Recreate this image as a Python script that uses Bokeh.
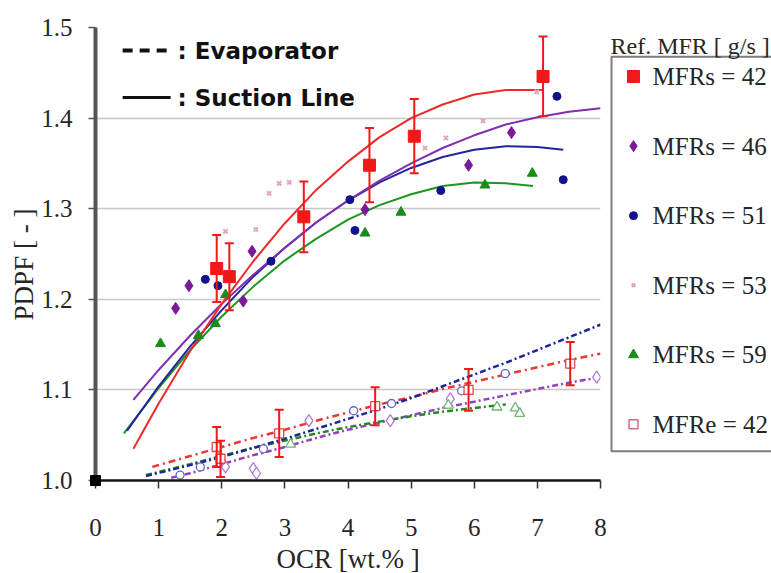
import math
from bokeh.plotting import figure
from bokeh.layouts import row
from bokeh.models import (Range1d, FixedTicker, PrintfTickFormatter, Label,
                          Whisker, TeeHead, ColumnDataSource)
from bokeh.core.properties import value
from bokeh.embed import file_html
from bokeh.resources import INLINE

SERIF = "'Liberation Serif', 'Times New Roman', serif"
KEYFONT = "'DejaVu Sans', sans-serif"
TXT = "#262626"

# ---------------- axis ticks and titles ----------------
x_ticks = [0, 1, 2, 3, 4, 5, 6, 7, 8]
y_ticks = [1.0, 1.1, 1.2, 1.3, 1.4, 1.5]
x_title = "OCR [wt.% ]"
y_title = "PDPF [ - ]"

# ---------------- suction line measurements (filled markers) ----------------
s42_x = [1.92, 2.12, 3.30, 4.34, 5.05, 7.09]
s42_y = [1.234, 1.225, 1.291, 1.348, 1.380, 1.446]
s42_err = [0.037, 0.037, 0.039, 0.041, 0.041, 0.044]

s46_x = [1.27, 1.48, 2.34, 2.48, 4.27, 5.91, 6.59]
s46_y = [1.190, 1.215, 1.198, 1.253, 1.299, 1.348, 1.384]

s51_x = [1.74, 1.94, 2.78, 4.03, 4.11, 5.47, 7.31, 7.41]
s51_y = [1.222, 1.215, 1.242, 1.310, 1.276, 1.320, 1.424, 1.332]

s53_x = [2.06, 2.54, 2.75, 2.91, 3.07, 5.22, 5.55, 6.14, 6.99]
s53_y = [1.275, 1.277, 1.317, 1.328, 1.329, 1.367, 1.378, 1.397, 1.429]

s59_x = [1.03, 1.63, 1.90, 2.06, 4.27, 4.84, 6.17, 6.92]
s59_y = [1.151, 1.160, 1.173, 1.205, 1.273, 1.296, 1.326, 1.339]

# ---------------- evaporator measurements (open markers) ----------------
e42_x = [1.92, 1.98, 2.91, 4.43, 5.91, 7.52]
e42_y = [1.037, 1.024, 1.052, 1.082, 1.100, 1.129]
e42_err = [0.022, 0.020, 0.026, 0.021, 0.023, 0.024]

e51_x = [1.34, 1.66, 2.66, 4.09, 4.69, 5.80, 6.49]
e51_y = [1.006, 1.015, 1.035, 1.077, 1.085, 1.099, 1.118]

e46_x = [2.06, 2.50, 2.55, 3.38, 4.67, 5.62, 7.94]
e46_y = [1.015, 1.013, 1.008, 1.066, 1.066, 1.090, 1.114]

e59_x = [1.98, 3.09, 5.59, 6.36, 6.65, 6.72]
e59_y = [1.026, 1.040, 1.083, 1.081, 1.080, 1.074]

origin_x = [0.0]
origin_y = [1.0]

# ---------------- trend curves, suction line ----------------
fs42_x = [0.6, 1.0, 1.5, 2.0, 2.5, 3.0, 3.5, 4.0, 4.5, 5.0, 5.5, 6.0, 6.5, 7.0, 7.09]
fs42_y = [1.035, 1.085, 1.143, 1.195, 1.242, 1.284, 1.321, 1.352, 1.379, 1.400,
          1.415, 1.426, 1.431, 1.431, 1.431]

fs46_x = [0.6, 1.0, 1.5, 2.0, 2.5, 3.0, 3.5, 4.0, 4.5, 5.0, 5.5, 6.0, 6.5, 7.0, 7.5, 8.0]
fs46_y = [1.089, 1.122, 1.160, 1.195, 1.227, 1.257, 1.285, 1.309, 1.331, 1.350,
          1.367, 1.381, 1.393, 1.401, 1.407, 1.411]

fs51_x = [0.5, 1.0, 1.5, 2.0, 2.5, 3.0, 3.5, 4.0, 4.5, 5.0, 5.5, 6.0, 6.5, 7.0, 7.41]
fs51_y = [1.055, 1.104, 1.148, 1.188, 1.225, 1.257, 1.285, 1.309, 1.329, 1.345,
          1.357, 1.365, 1.369, 1.368, 1.365]

fs59_x = [0.45, 1.0, 1.5, 2.0, 2.5, 3.0, 3.5, 4.0, 4.5, 5.0, 5.5, 6.0, 6.5, 6.93]
fs59_y = [1.052, 1.102, 1.144, 1.181, 1.214, 1.243, 1.267, 1.288, 1.304, 1.316,
          1.325, 1.329, 1.328, 1.325]

# ---------------- trend curves, evaporator ----------------
fe42_x = [0.9, 1.5, 2.0, 2.5, 3.0, 3.5, 4.0, 4.5, 5.0, 5.5, 6.0, 6.5, 7.0, 7.5, 8.0]
fe42_y = [1.015, 1.027, 1.037, 1.047, 1.056, 1.066, 1.075, 1.084, 1.092, 1.101,
          1.109, 1.117, 1.125, 1.133, 1.140]

fe51_x = [0.8, 1.5, 2.0, 2.5, 3.0, 3.5, 4.0, 4.5, 5.0, 5.5, 6.0, 6.5, 7.0, 7.5, 8.0]
fe51_y = [1.005, 1.017, 1.026, 1.036, 1.046, 1.057, 1.068, 1.079, 1.091, 1.104,
          1.117, 1.130, 1.144, 1.158, 1.172]

fe46_x = [1.2, 1.5, 2.0, 2.5, 3.0, 3.5, 4.0, 4.5, 5.0, 5.5, 6.0, 6.5, 7.0, 7.5, 8.0]
fe46_y = [1.003, 1.008, 1.018, 1.028, 1.037, 1.047, 1.056, 1.064, 1.072, 1.080,
          1.087, 1.094, 1.101, 1.108, 1.114]

fe59_x = [0.8, 1.5, 2.0, 2.5, 3.0, 3.5, 4.0, 4.5, 5.0, 5.5, 6.0, 6.5]
fe59_y = [1.006, 1.018, 1.027, 1.036, 1.044, 1.052, 1.059, 1.065, 1.071, 1.076,
          1.080, 1.084]

# ---------------- legend ----------------
legend_title = "Ref. MFR [ g/s ]"
legend_labels = ["MFRs = 42", "MFRs = 46", "MFRs = 51", "MFRs = 53", "MFRs = 59", "MFRe = 42"]

RED = "#f01818"
PURPLE = "#7a1a9a"
BLUE = "#12128c"
PINK = "#e2a6ba"
GREEN = "#1a8c1a"


def blank(fig):
    fig.axis.visible = False
    fig.grid.visible = False
    fig.outline_line_color = None
    fig.background_fill_color = "white"
    fig.border_fill_color = "white"
    return fig


# ================= main chart =================
p = figure(width=609, height=573, x_range=Range1d(0, 8), y_range=Range1d(1.0, 1.5),
           output_backend="svg", toolbar_location=None,
           min_border_left=95, min_border_right=9, min_border_top=27, min_border_bottom=93)
p.outline_line_color = None
p.background_fill_color = "white"
p.border_fill_color = "white"

p.xgrid.visible = False
p.ygrid.grid_line_color = "#c8c8c8"
p.ygrid.grid_line_width = 1.5

p.xaxis.ticker = FixedTicker(ticks=x_ticks)
p.yaxis.ticker = FixedTicker(ticks=y_ticks)
p.yaxis.formatter = PrintfTickFormatter(format="%.1f")

for ax in (p.xaxis[0], p.yaxis[0]):
    ax.major_label_text_font = SERIF
    ax.major_label_text_font_size = "25px"
    ax.major_label_text_color = TXT
    ax.minor_tick_line_color = None
    ax.major_tick_in = 0

p.yaxis.axis_line_color = "#555555"
p.yaxis.axis_line_width = 4
p.yaxis.major_tick_line_color = "#555555"
p.yaxis.major_tick_line_width = 1.5
p.yaxis.major_tick_out = 7
p.yaxis.major_label_standoff = 16

p.xaxis.axis_line_color = "#151515"
p.xaxis.axis_line_width = 2.5
p.xaxis.major_tick_line_color = "#333333"
p.xaxis.major_tick_line_width = 1.5
p.xaxis.major_tick_out = 8
p.xaxis.major_label_standoff = 30

# axis titles, drawn in the border area beside the frame
ytitle = p.text(x=[-1.125], y=[1.2384], text=[y_title], angle=math.pi / 2,
                text_font=value(SERIF), text_font_size="27px", text_color=TXT,
                text_align="center", text_baseline="middle")
ytitle.level = "overlay"
xtitle = p.text(x=[4.0], y=[0.9139], text=[x_title],
                text_font=value(SERIF), text_font_size="27px", text_color=TXT,
                text_align="center", text_baseline="middle")
xtitle.level = "overlay"

# evaporator trend lines
EV_DASH = "6 3 2 3"
p.line(fe46_x, fe46_y, line_color="#9440c0", line_width=2.5, line_dash=EV_DASH)
p.line(fe59_x, fe59_y, line_color="#238a23", line_width=2.5, line_dash=EV_DASH)
p.line(fe42_x, fe42_y, line_color="#f03535", line_width=2.5, line_dash="7 4 2 4")
p.line(fe51_x, fe51_y, line_color="#1c2696", line_width=2.5, line_dash=EV_DASH)

# suction line trend curves
p.line(fs59_x, fs59_y, line_color="#1e961e", line_width=2)
p.line(fs51_x, fs51_y, line_color="#2424a0", line_width=2)
p.line(fs46_x, fs46_y, line_color="#8030b0", line_width=2)
p.line(fs42_x, fs42_y, line_color="#f02a2a", line_width=2)

# evaporator points
p.scatter(e51_x, e51_y, marker="circle", size=8, line_color="#6464c8", fill_color="white", line_width=1.3)
p.scatter(e46_x, e46_y, marker="diamond", size=12, line_color="#b47ad8", fill_color="white", line_width=1.3)
p.scatter(e59_x, e59_y, marker="triangle", size=10, line_color="#72b472", fill_color="white", line_width=1.3)

# error bars
for xs, ys, es in ((e42_x, e42_y, e42_err), (s42_x, s42_y, s42_err)):
    src = ColumnDataSource(dict(x=xs, lo=[y - e for y, e in zip(ys, es)],
                                hi=[y + e for y, e in zip(ys, es)]))
    w = Whisker(base="x", lower="lo", upper="hi", source=src, level="glyph",
                line_color=RED, line_width=2,
                upper_head=TeeHead(size=9, line_color=RED, line_width=2),
                lower_head=TeeHead(size=9, line_color=RED, line_width=2))
    p.add_layout(w)

p.scatter(e42_x, e42_y, marker="square", size=9, line_color="#e04848", fill_color="white", line_width=1.3)

# suction line points
p.scatter(s53_x, s53_y, marker="x", size=6, line_color=PINK, line_width=2)
p.scatter(s59_x, s59_y, marker="triangle", size=10, fill_color=GREEN, line_color=GREEN)
p.scatter(s46_x, s46_y, marker="diamond", size=12, fill_color=PURPLE, line_color=PURPLE)
p.scatter(s51_x, s51_y, marker="circle", size=8, fill_color=BLUE, line_color=BLUE)
p.scatter(s42_x, s42_y, marker="square", size=12, fill_color=RED, line_color=RED)

orig = p.scatter(origin_x, origin_y, marker="square", size=10, fill_color="black", line_color="black")
orig.level = "overlay"

# line-style key (sample strokes + captions)
p.line([0.43, 1.19], [1.4746, 1.4746], line_color="#111111", line_width=4, line_dash="10 7")
p.line([0.43, 1.19], [1.4227, 1.4227], line_color="#111111", line_width=3)
p.add_layout(Label(x=1.30, y=1.4746, text=": Evaporator", text_font=KEYFONT,
                   text_font_style="bold", text_font_size="23px", text_color="#111111",
                   text_baseline="middle"))
p.add_layout(Label(x=1.30, y=1.4227, text=": Suction Line", text_font=KEYFONT,
                   text_font_style="bold", text_font_size="23px", text_color="#111111",
                   text_baseline="middle"))

# ================= legend panel =================
leg = blank(figure(width=162, height=573, x_range=Range1d(609, 771), y_range=Range1d(573, 0),
                   output_backend="svg", toolbar_location=None,
                   min_border_left=0, min_border_right=0, min_border_top=0, min_border_bottom=0))

leg.quad(left=[611], right=[790], top=[37], bottom=[536], fill_color=None,
         line_color="#7c7c7c", line_width=2)
leg.text(x=[610], y=[23], text=[legend_title], text_font=value(SERIF),
         text_font_size="24px", text_color=TXT, text_baseline="middle", text_align="left")

row_y = [62 + 88 * i for i in range(len(legend_labels))]
mx = [633] * len(legend_labels)
leg.text(x=[652] * len(legend_labels), y=row_y, text=legend_labels, text_font=value(SERIF),
         text_font_size="25px", text_color=TXT, text_baseline="middle", text_align="left")

leg.scatter(mx[0:1], row_y[0:1], marker="square", size=12, fill_color=RED, line_color=RED)
leg.scatter(mx[1:2], row_y[1:2], marker="diamond", size=11, fill_color=PURPLE, line_color=PURPLE)
leg.scatter(mx[2:3], row_y[2:3], marker="circle", size=8, fill_color=BLUE, line_color=BLUE)
leg.scatter(mx[3:4], row_y[3:4], marker="x", size=5, line_color=PINK, line_width=2)
leg.scatter(mx[4:5], row_y[4:5], marker="triangle", size=10, fill_color=GREEN, line_color=GREEN)
leg.scatter(mx[5:6], row_y[5:6], marker="square", size=9, fill_color="white", line_color="#d46a7e", line_width=1.5)

layout = row(p, leg)
open("out.html", "w").write(file_html(layout, INLINE))
